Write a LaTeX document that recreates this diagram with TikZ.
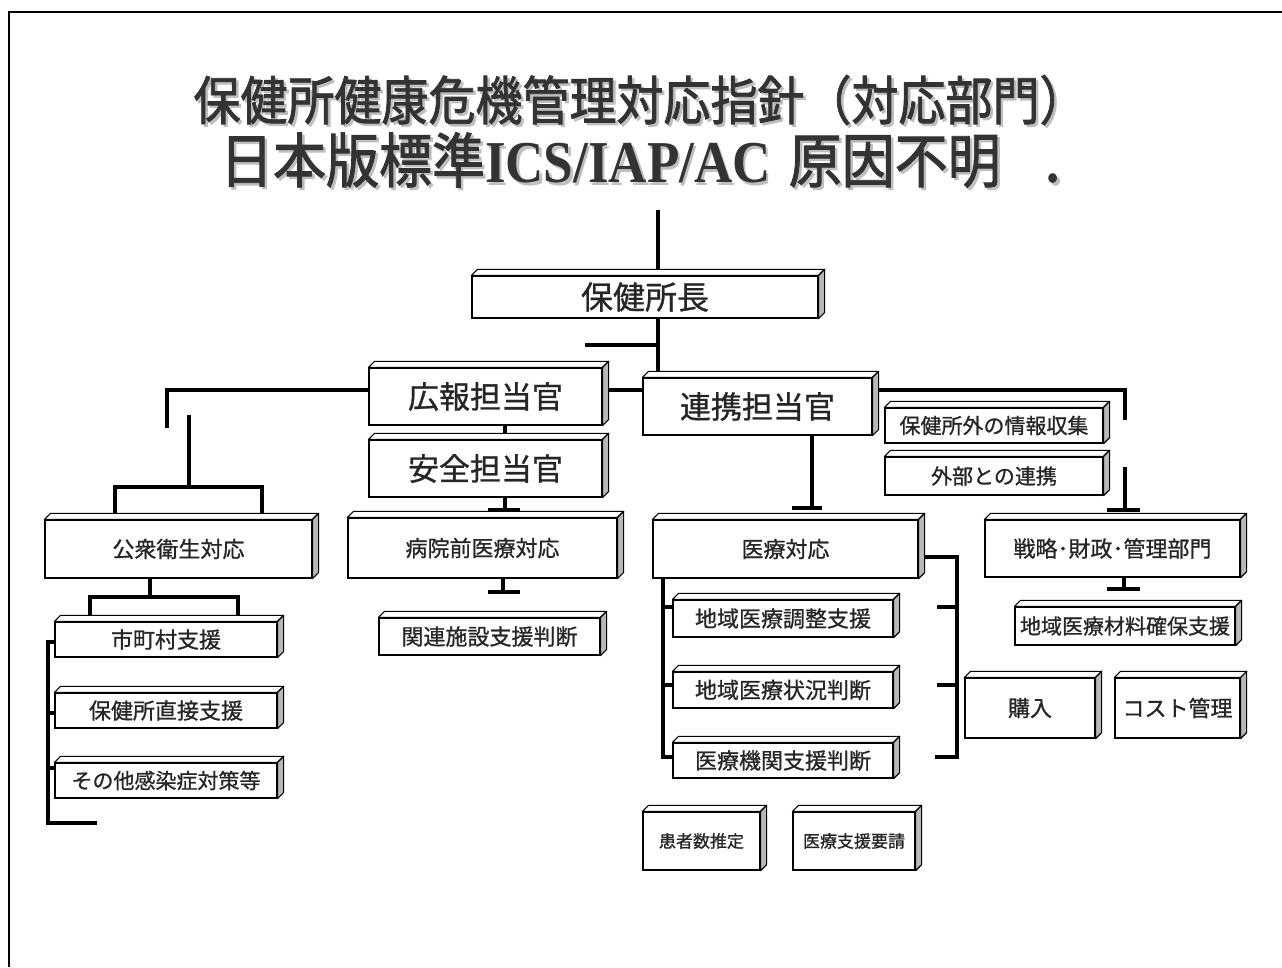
\documentclass[tikz,border=0pt]{standalone}
\usepackage{fontspec}
\newfontfamily\jp[FakeBold=0.9]{Noto Sans CJK JP}
\newfontfamily\jptitle[FakeBold=1.6]{Noto Sans CJK JP}
\newfontfamily\tserif{Liberation Serif}
\usetikzlibrary{calc}
\definecolor{ink}{HTML}{262626}
\definecolor{titleink}{HTML}{333333}
\definecolor{sidegray}{HTML}{B8B8B8}
\tikzset{
  cbox/.style={draw=black, line width=1.2pt, fill=white, rectangle, inner sep=0pt, text=ink},
  fs/.style={font={\jp\fontsize{#1}{#1}\selectfont}},
  tfs/.style={font={\jptitle\fontsize{#1}{#1}\selectfont}},
  conn/.style={line width=3.4pt, black},
  face/.style={line width=1.1pt, line join=round},
}
\newcommand{\mkthreed}[1]{%
  \draw[face, fill=white] (#1.north west) -- ++(6,-6) -- ($(#1.north east)+(6,-6)$) -- (#1.north east) -- cycle;
  \draw[face, fill=sidegray] (#1.north east) -- ++(6,-6) -- ($(#1.south east)+(6,-6)$) -- (#1.south east) -- cycle;
}
\begin{document}
\begin{tikzpicture}[x=1pt,y=-1pt]
\useasboundingbox (0,0) rectangle (1282,967);
\fill[white] (0,0) rectangle (1282,967);
% frame
\draw[line width=1.4pt] (9,967) -- (9,12) -- (1282,12);

% title
\node[tfs=47, text=gray!50] at (642.5,102.5) {\scalebox{1}[1.12]{保健所健康危機管理対応指針（対応部門）}};
\node[tfs=47, text=titleink] (t1) at (640,100) {\scalebox{1}[1.12]{保健所健康危機管理対応指針（対応部門）}};
\node[tfs=53, text=gray!50] at (642.5,162.5) {\scalebox{1}[1.12]{日本版標準{\tserif\bfseries ICS/IAP/AC}\hspace{18pt}原因不明\hspace{46pt}{\tserif\bfseries .}}};
\node[tfs=53, text=titleink] (t2) at (640,160) {\scalebox{1}[1.12]{日本版標準{\tserif\bfseries ICS/IAP/AC}\hspace{18pt}原因不明\hspace{46pt}{\tserif\bfseries .}}};

% coordinates for free ends
\coordinate (topc) at (658,210);
\coordinate (stub) at (585,345);
\coordinate (lb) at (167,428);
\coordinate (rb) at (1125,420);
\coordinate (rb2) at (1125,467);
\coordinate (stem) at (189,415);

% connectors (behind boxes)
\draw[conn] (topc) -- (658,372);
\draw[conn] (stub) -- (658,345);
\draw[conn] (lb) -- (167,390) -- (1125,390) -- (rb);
\draw[conn] (rb2) -- (1125,510);
\draw[conn] (1107,510) -- (1140,510);
\draw[conn] (stem) -- (189,487);
\draw[conn] (115,520) -- (115,487) -- (262,487) -- (262,520);
\draw[conn] (505,425) -- (505,440);
\draw[conn] (505,497) -- (505,510);
\draw[conn] (488,510) -- (520,510);
\draw[conn] (503,578) -- (503,592);
\draw[conn] (488,592) -- (520,592);
\draw[conn] (812,435) -- (812,508);
\draw[conn] (792,508) -- (822,508);
\draw[conn] (1124,577) -- (1124,589);
\draw[conn] (1107,589) -- (1140,589);
\draw[conn] (150,578) -- (150,597);
\draw[conn] (90,622) -- (90,597) -- (238,597) -- (238,622);
\draw[conn] (55,642) -- (48,642) -- (48,823) -- (97,823);
\draw[conn] (48,713) -- (55,713);
\draw[conn] (48,768) -- (55,768);
\draw[conn] (663,578) -- (663,757) -- (673,757);
\draw[conn] (663,607) -- (673,607);
\draw[conn] (663,685) -- (673,685);
\draw[conn] (924,557) -- (957,557) -- (957,757) -- (935,757);
\draw[conn] (937,607) -- (957,607);
\draw[conn] (937,685) -- (957,685);

% boxes
\node[cbox, fs=32, minimum width=346, minimum height=42] (boss) at (645,297) {保健所長};
\node[cbox, fs=31, minimum width=233, minimum height=57] (pr) at (485.5,396.5) {広報担当官};
\node[cbox, fs=31, minimum width=233, minimum height=57] (safety) at (485.5,468.5) {安全担当官};
\node[cbox, fs=31, minimum width=229, minimum height=57] (liaison) at (757.5,406.5) {連携担当官};
\node[cbox, fs=21, minimum width=218, minimum height=35] (info) at (994,425.5) {保健所外の情報収集};
\node[cbox, fs=21, minimum width=218, minimum height=38] (ext) at (994,476) {外部との連携};
\node[cbox, fs=22, minimum width=267, minimum height=58] (ph) at (178.5,549) {公衆衛生対応};
\node[cbox, fs=22, minimum width=222, minimum height=35] (muni) at (166,639.5) {市町村支援};
\node[cbox, fs=22, minimum width=222, minimum height=35] (direct) at (166,710.5) {保健所直接支援};
\node[cbox, fs=21, minimum width=222, minimum height=35] (other) at (166,780.5) {その他感染症対策等};
\node[cbox, fs=22, minimum width=269, minimum height=60] (prehosp) at (482.5,548) {病院前医療対応};
\node[cbox, fs=22, minimum width=221, minimum height=37] (facility) at (489.5,636.5) {関連施設支援判断};
\node[cbox, fs=22, minimum width=265, minimum height=58] (med) at (785.5,549) {医療対応};
\node[cbox, fs=22, minimum width=220, minimum height=37] (coord) at (783,618.5) {地域医療調整支援};
\node[cbox, fs=22, minimum width=220, minimum height=36] (status) at (783,690) {地域医療状況判断};
\node[cbox, fs=22, minimum width=220, minimum height=35] (inst) at (783,760.5) {医療機関支援判断};
\node[cbox, fs=17, minimum width=117, minimum height=58] (patients) at (701.5,841) {患者数推定};
\node[cbox, fs=17, minimum width=122, minimum height=58] (request) at (854,841) {医療支援要請};
\node[cbox, fs=22, minimum width=255, minimum height=57] (strat) at (1112.5,548.5) {戦略･財政･管理部門};
\node[cbox, fs=21, minimum width=220, minimum height=38] (supply) at (1125,626) {地域医療材料確保支援};
\node[cbox, fs=22, minimum width=130, minimum height=60] (purchase) at (1030,708) {購入};
\node[cbox, fs=22, minimum width=125, minimum height=60] (cost) at (1177.5,708) {コスト管理};

\foreach \n in {boss,pr,safety,liaison,info,ext,ph,muni,direct,other,prehosp,facility,med,coord,status,inst,patients,request,strat,supply,purchase,cost}{\mkthreed{\n}}
\end{tikzpicture}
\end{document}
